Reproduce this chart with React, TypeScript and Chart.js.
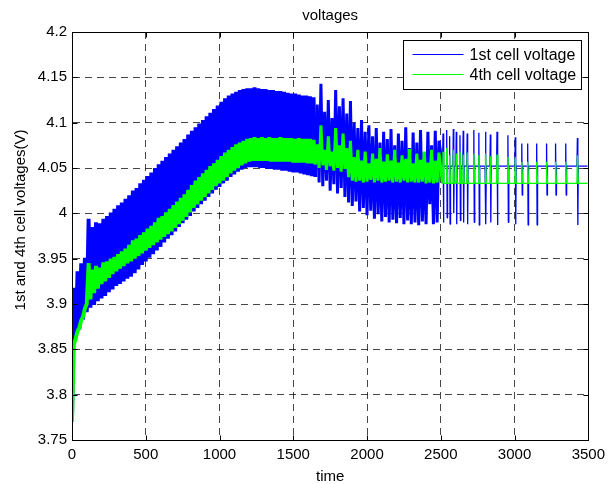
import React, { useEffect, useRef } from 'react';
import { Chart, registerables } from 'chart.js';

Chart.register(...registerables);

const chartTitle = 'voltages';
const xAxisTitle = 'time';
const yAxisTitle = '1st and 4th cell voltages(V)';
const seriesNames = ['1st cell voltage', '4th cell voltage'];
const seriesColors = ['#0000ff', '#00ff00'];

const xTicks = [0, 500, 1000, 1500, 2000, 2500, 3000, 3500];
const xTickLabels = ['0', '500', '1000', '1500', '2000', '2500', '3000', '3500'];
const yTicks = [3.75, 3.8, 3.85, 3.9, 3.95, 4, 4.05, 4.1, 4.15, 4.2];
const yTickLabels = ['3.75', '3.8', '3.85', '3.9', '3.95', '4', '4.05', '4.1', '4.15', '4.2'];

// Dense (fast-oscillating) part, one pair per 25 time units:
// low value read at t = 25k, high value read at t = 25k + 12.5
const denseSampleStep = 25;
const regularEnd = 1650; // regular oscillation until here
const denseEnd = 2500; // irregular dense spikes until here

const blueLow = [
  3.770, 3.862, 3.872, 3.883, 3.891, 3.896, 3.899, 3.903, 3.906, 3.909,
  3.913, 3.916, 3.920, 3.922, 3.925, 3.928, 3.930, 3.934, 3.938, 3.943,
  3.947, 3.951, 3.955, 3.959, 3.963, 3.968, 3.972, 3.976, 3.980, 3.985,
  3.989, 3.993, 3.997, 4.002, 4.006, 4.010, 4.014, 4.018, 4.022, 4.026,
  4.029, 4.033, 4.036, 4.040, 4.043, 4.046, 4.048, 4.050, 4.051, 4.051,
  4.051, 4.050, 4.050, 4.049, 4.049, 4.048, 4.048, 4.047, 4.047, 4.046,
  4.045, 4.045, 4.044, 4.043, 4.042, 4.041, 4.040, 4.034, 4.030, 4.036,
  4.025, 4.032, 4.022, 4.028, 4.018, 4.012, 4.008, 4.013, 4.002, 4.006,
  3.998, 4.003, 3.994, 3.999, 3.991, 3.996, 3.990, 3.993, 3.989, 3.995,
  3.988, 3.992, 3.988, 3.990, 3.987, 3.991, 3.988, 4.010, 3.988, 3.990,
];

const blueHigh = [
  3.918, 3.936, 3.945, 3.951, 3.994, 3.985, 3.990, 3.989, 3.994, 3.997,
  4.001, 4.005, 4.009, 4.012, 4.016, 4.020, 4.025, 4.028, 4.033, 4.037,
  4.041, 4.045, 4.050, 4.054, 4.058, 4.062, 4.066, 4.070, 4.074, 4.078,
  4.082, 4.087, 4.091, 4.095, 4.099, 4.103, 4.107, 4.111, 4.115, 4.119,
  4.123, 4.127, 4.130, 4.132, 4.134, 4.136, 4.137, 4.138, 4.138, 4.139,
  4.138, 4.137, 4.137, 4.136, 4.136, 4.135, 4.135, 4.134, 4.133, 4.132,
  4.132, 4.131, 4.130, 4.130, 4.129, 4.128, 4.120, 4.143, 4.112, 4.125,
  4.105, 4.136, 4.118, 4.127, 4.110, 4.124, 4.100, 4.094, 4.103, 4.090,
  4.097, 4.085, 4.094, 4.078, 4.090, 4.082, 4.093, 4.075, 4.088, 4.080,
  4.095, 4.072, 4.089, 4.078, 4.092, 4.067, 4.090, 4.075, 4.091, 4.080,
];

const greenLow = [
  3.770, 3.862, 3.874, 3.886, 3.900, 3.905, 3.912, 3.917, 3.922, 3.925,
  3.929, 3.933, 3.936, 3.939, 3.942, 3.945, 3.947, 3.950, 3.953, 3.956,
  3.959, 3.962, 3.965, 3.968, 3.971, 3.974, 3.977, 3.980, 3.984, 3.988,
  3.992, 3.996, 4.001, 4.006, 4.010, 4.014, 4.018, 4.022, 4.026, 4.030,
  4.033, 4.036, 4.040, 4.044, 4.047, 4.050, 4.053, 4.055, 4.057, 4.058,
  4.058, 4.058, 4.058, 4.058, 4.057, 4.057, 4.057, 4.057, 4.057, 4.057,
  4.056, 4.056, 4.056, 4.056, 4.055, 4.055, 4.054, 4.050, 4.053, 4.048,
  4.052, 4.047, 4.050, 4.046, 4.049, 4.040, 4.036, 4.035, 4.036, 4.034,
  4.035, 4.037, 4.034, 4.036, 4.034, 4.035, 4.036, 4.034, 4.035, 4.034,
  4.036, 4.034, 4.035, 4.034, 4.034, 4.035, 4.033, 4.034, 4.033, 4.034,
];

const greenHigh = [
  3.855, 3.870, 3.882, 3.895, 3.945, 3.938, 3.942, 3.940, 3.946, 3.947,
  3.950, 3.952, 3.955, 3.958, 3.961, 3.965, 3.970, 3.972, 3.976, 3.979,
  3.983, 3.986, 3.990, 3.995, 3.997, 4.001, 4.005, 4.009, 4.013, 4.017,
  4.021, 4.026, 4.031, 4.036, 4.040, 4.044, 4.048, 4.052, 4.055, 4.059,
  4.063, 4.067, 4.070, 4.073, 4.076, 4.078, 4.080, 4.082, 4.083, 4.084,
  4.083, 4.084, 4.083, 4.084, 4.083, 4.083, 4.084, 4.083, 4.083, 4.083,
  4.082, 4.083, 4.082, 4.082, 4.082, 4.081, 4.076, 4.097, 4.070, 4.085,
  4.068, 4.094, 4.075, 4.088, 4.072, 4.080, 4.062, 4.070, 4.058, 4.068,
  4.055, 4.066, 4.060, 4.072, 4.057, 4.065, 4.058, 4.070, 4.056, 4.064,
  4.060, 4.071, 4.055, 4.066, 4.059, 4.068, 4.056, 4.070, 4.058, 4.067,
];

// Sparse part: isolated spikes on top of a resting level
const spikeTimes = [
  2515, 2540, 2560, 2585, 2605, 2630, 2652, 2679, 2724, 2758, 2803,
  2836, 2881, 2955, 3005, 3049, 3089, 3150, 3217, 3278, 3347, 3426,
];
const blueSpikeTop = [
  4.088, 4.092, 4.085, 4.093, 4.090, 4.086, 4.091, 4.088, 4.092, 4.089, 4.090,
  4.087, 4.090, 4.086, 4.084, 4.077, 4.077, 4.077, 4.077, 4.077, 4.077, 4.083,
];
const blueSpikeBottom = [
  3.990, 3.995, 3.988, 4.000, 3.988, 3.992, 3.990, 3.988, 3.990, 3.987, 3.988,
  3.990, 3.987, 3.990, 3.988, 4.020, 3.987, 3.987, 4.020, 4.020, 4.020, 3.987,
];
const greenSpikeTop = [
  4.068, 4.072, 4.064, 4.070, 4.066, 4.068, 4.065, 4.067, 4.066, 4.064, 4.066,
  4.063, 4.065, 4.062, 4.062, 4.057, 4.057, 4.057, 4.057, 4.057, 4.057, 4.064,
];
const blueRest = 4.052;
const greenRest = 4.033;
const endTime = 3495;

type Pt = { x: number; y: number };

function buildSeries(low: number[], high: number[], tops: number[], bottoms: number[] | null, rest: number): Pt[] {
  const pts: Pt[] = [];
  for (let i = 0; i < low.length; i++) {
    pts.push({ x: i * denseSampleStep, y: low[i] });
    pts.push({ x: i * denseSampleStep + denseSampleStep / 2, y: high[i] });
  }
  spikeTimes.forEach((t, i) => {
    pts.push({ x: t - 3, y: rest });
    pts.push({ x: t, y: tops[i] });
    if (bottoms) pts.push({ x: t + 3, y: bottoms[i] });
    pts.push({ x: t + 6, y: rest });
  });
  pts.push({ x: endTime, y: rest });
  return pts;
}

const FONT = '"Liberation Sans", Arial, Helvetica, sans-serif';
const gridColor = 'rgba(0,0,0,0.72)';

const matlabPlugin = {
  id: 'matlabDecor',
  afterDraw(chart: any) {
    const { ctx, chartArea: a, scales } = chart;
    ctx.save();
    // frame
    ctx.strokeStyle = '#000';
    ctx.lineWidth = 1;
    ctx.setLineDash([]);
    const L = Math.round(a.left) + 0.5;
    const R = Math.round(a.right) + 0.5;
    const T = Math.round(a.top) + 0.5;
    const B = Math.round(a.bottom) + 0.5;
    ctx.strokeRect(L, T, R - L, B - T);
    // inward tick marks
    const tl = 5;
    ctx.beginPath();
    scales.x.ticks.forEach((t: any) => {
      const px = Math.round(scales.x.getPixelForValue(t.value)) + 0.5;
      ctx.moveTo(px, B); ctx.lineTo(px, B - tl);
      ctx.moveTo(px, T); ctx.lineTo(px, T + tl);
    });
    scales.y.ticks.forEach((t: any) => {
      const py = Math.round(scales.y.getPixelForValue(t.value)) + 0.5;
      ctx.moveTo(L, py); ctx.lineTo(L + tl, py);
      ctx.moveTo(R, py); ctx.lineTo(R - tl, py);
    });
    ctx.stroke();

    // y axis title
    ctx.save();
    ctx.translate(20.5, (a.top + a.bottom) / 2 - 16);
    ctx.rotate(-Math.PI / 2);
    ctx.fillStyle = '#000';
    ctx.font = `15px ${FONT}`;
    ctx.textAlign = 'center';
    ctx.textBaseline = 'middle';
    ctx.fillText(yAxisTitle, 0, 0);
    ctx.restore();

    // legend
    const boxW = 178, boxH = 49;
    const bx = Math.round(a.right) - 7 - boxW + 0.5;
    const by = Math.round(a.top) + 8 + 0.5;
    ctx.fillStyle = '#fff';
    ctx.fillRect(bx, by, boxW, boxH);
    ctx.strokeStyle = '#000';
    ctx.lineWidth = 1;
    ctx.strokeRect(bx, by, boxW, boxH);
    ctx.font = `16px ${FONT}`;
    ctx.textAlign = 'left';
    ctx.textBaseline = 'alphabetic';
    chart.data.datasets.forEach((ds: any, i: number) => {
      const ly = Math.round(by + 13 + i * 20) + 0.5;
      ctx.strokeStyle = ds.borderColor;
      ctx.lineWidth = 1;
      ctx.beginPath();
      ctx.moveTo(bx + 9, ly);
      ctx.lineTo(bx + 60, ly);
      ctx.stroke();
      ctx.fillStyle = '#000';
      ctx.fillText(ds.label, bx + 66, by + 19.5 + i * 20);
    });
    ctx.restore();
  },
};

const segWidth = (c: any) => {
  const x = c.p0.parsed.x;
  if (x < regularEnd) return 3.9;
  if (x < denseEnd) return 3.0;
  return 1.3;
};

export default function App() {
  const ref = useRef<HTMLCanvasElement>(null);

  useEffect(() => {
    const canvas = ref.current;
    if (!canvas) return;
    Chart.defaults.font.family = FONT;
    Chart.defaults.color = '#000';

    const blueData = buildSeries(blueLow, blueHigh, blueSpikeTop, blueSpikeBottom, blueRest);
    const greenData = buildSeries(greenLow, greenHigh, greenSpikeTop, null, greenRest);

    const chart = new Chart(canvas, {
      type: 'line',
      data: {
        datasets: [
          {
            label: seriesNames[0],
            data: blueData,
            borderColor: seriesColors[0],
            backgroundColor: seriesColors[0],
            borderWidth: 1.3,
            segment: { borderWidth: segWidth },
            borderJoinStyle: 'bevel',
            pointRadius: 0,
            tension: 0,
            fill: false,
            order: 1,
          },
          {
            label: seriesNames[1],
            data: greenData,
            borderColor: seriesColors[1],
            backgroundColor: seriesColors[1],
            borderWidth: 1.3,
            segment: { borderWidth: segWidth },
            borderJoinStyle: 'bevel',
            pointRadius: 0,
            tension: 0,
            fill: false,
            order: 0,
          },
        ],
      },
      options: {
        responsive: false,
        animation: false,
        devicePixelRatio: 1,
        parsing: false,
        normalized: true,
        events: [],
        layout: { padding: { left: 0, right: 19, top: 0, bottom: 0 } },
        plugins: {
          legend: { display: false },
          tooltip: { enabled: false },
          title: {
            display: true,
            text: chartTitle,
            fullSize: false,
            color: '#000',
            font: { size: 15, weight: 'normal', family: FONT },
            padding: { top: 6.5, bottom: 7.5 },
          },
        },
        scales: {
          x: {
            type: 'linear',
            min: 0,
            max: 3500,
            afterFit: (s: any) => { s.height = 44; },
            afterBuildTicks: (s: any) => { s.ticks = xTicks.map((v) => ({ value: v })); },
            ticks: {
              autoSkip: false,
              maxRotation: 0,
              minRotation: 0,
              padding: 6,
              color: '#000',
              font: { size: 15 },
              callback: (v: any) => xTickLabels[xTicks.indexOf(Number(v))],
            },
            grid: { color: gridColor, drawTicks: false, lineWidth: 1 },
            border: { display: true, color: '#000', width: 1, dash: [7, 5] },
            title: {
              display: true,
              text: xAxisTitle,
              color: '#000',
              font: { size: 15, lineHeight: 1 },
              padding: { top: 0, bottom: 0 },
            },
          },
          y: {
            type: 'linear',
            min: 3.75,
            max: 4.2,
            afterFit: (s: any) => { s.width = 72; },
            afterBuildTicks: (s: any) => { s.ticks = yTicks.map((v) => ({ value: v })); },
            ticks: {
              autoSkip: false,
              padding: 5,
              color: '#000',
              font: { size: 15 },
              callback: (v: any) => {
                const i = yTicks.findIndex((t) => Math.abs(t - Number(v)) < 1e-9);
                return i >= 0 ? yTickLabels[i] : '';
              },
            },
            grid: { color: gridColor, drawTicks: false, lineWidth: 1 },
            border: { display: true, color: '#000', width: 1, dash: [7, 5] },
            title: { display: false },
          },
        },
      } as any,
      plugins: [matlabPlugin],
    });

    return () => chart.destroy();
  }, []);

  return (
    <div style={{ position: 'absolute', left: 0, top: 0, width: 611, height: 484, background: '#fff' }}>
      <canvas ref={ref} width={611} height={484} style={{ display: 'block', width: 611, height: 484 }} />
    </div>
  );
}
